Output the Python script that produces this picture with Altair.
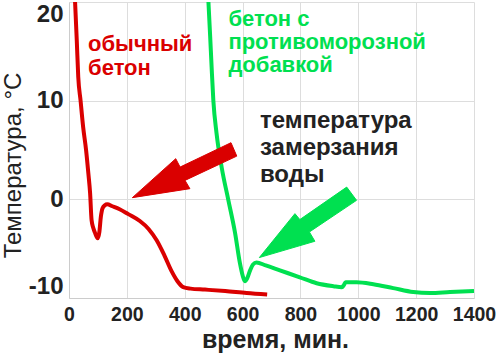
import altair as alt
import pandas as pd

# ---- data ----
red_t_min = [21, 27, 32, 40, 49, 59, 67, 73, 78, 84, 90, 99, 105, 110, 116, 124, 132,
             150, 175, 205, 245, 275, 303, 330, 355, 375, 395, 420, 470, 540, 614, 685]
red_temp = [20, 16, 12.4, 10, 7.3, 5.0, 2.6, 0.6, -2.1, -2.9, -3.4, -3.95, -3.3, -1.8, -0.9, -0.6, -0.5,
            -0.7, -1.0, -1.5, -2.2, -3.0, -4.15, -5.7, -7.3, -8.3, -8.9, -9.05, -9.15, -9.3, -9.5, -9.65]

green_t_min = [482, 488, 493, 499, 510, 528, 551, 574, 591, 600, 608, 616, 626, 636, 648, 680,
               729, 798, 856, 914, 943, 950, 956, 994, 1052, 1121, 1190, 1248, 1317, 1400]
green_temp = [20, 16.5, 13.4, 10, 6.7, 3.2, -0.1, -3.4, -6.5, -7.7, -8.3, -8.0, -7.2, -6.6, -6.4, -6.7,
              -7.2, -7.9, -8.5, -8.8, -8.9, -8.7, -8.4, -8.4, -8.6, -9.0, -9.4, -9.5, -9.4, -9.3]

# arrow outlines (data units)
red_arrow_x = [219, 369, 384, 560, 580, 401, 418, 219]
red_arrow_y = [0.17, 4.12, 3.27, 5.74, 4.38, 1.92, 1.08, 0.17]
green_arrow_x = [658, 781, 798, 960, 994, 831, 850, 658]
green_arrow_y = [-5.9, -1.45, -2.05, 1.24, -0.1, -3.31, -4.25, -5.9]

label_texts = ["обычный\nбетон", "бетон с\nпротивоморозной\nдобавкой", "температура\nзамерзания\nводы"]
x_ticks = [0, 200, 400, 600, 800, 1000, 1200, 1400]
y_ticks = [-10, 0, 10, 20]

RED = "#da0000"
GREEN = "#00e050"
DARK = "#222222"
FONT = "Liberation Sans"

red_df = pd.DataFrame({"x": red_t_min, "y": red_temp})
green_df = pd.DataFrame({"x": green_t_min, "y": green_temp})
ra_df = pd.DataFrame({"x": red_arrow_x, "y": red_arrow_y, "i": range(len(red_arrow_x))})
ga_df = pd.DataFrame({"x": green_arrow_x, "y": green_arrow_y, "i": range(len(green_arrow_x))})

xs = alt.Scale(domain=[0, 1400], nice=False)
ys = alt.Scale(domain=[-10, 20], nice=False)

xaxis = alt.Axis(values=x_ticks, title="время, мин.", grid=True, ticks=False,
                 labelExpr="'' + datum.value", labelOverlap=False, labelFlush=False,
                 labelFont=FONT, labelFontSize=19.5, labelFontWeight="bold", labelColor=DARK,
                 labelPadding=7, titleFont=FONT, titleFontSize=25, titleFontWeight="bold",
                 titleColor=DARK, titleBaseline="alphabetic", titleY=49, titleX=206,
                 domainColor="#cccccc", gridColor="#dddddd")
yaxis = alt.Axis(values=y_ticks, title="Температура, °C", grid=True, ticks=False,
                 labelExpr="'' + datum.value", labelOverlap=False,
                 labelFont=FONT, labelFontSize=24, labelFontWeight="bold", labelColor=DARK,
                 labelPadding=6, labelFlush=True, titleFont=FONT, titleFontSize=24,
                 titleFontWeight="normal", titleColor=DARK, titleX=-44, titleY=163,
                 titleAngle=-90, titleBaseline="bottom", domainColor="#cccccc", gridColor="#dddddd")

base_x = alt.X("x:Q", scale=xs, axis=xaxis)
base_y = alt.Y("y:Q", scale=ys, axis=yaxis)

red_line = alt.Chart(red_df).mark_line(color=RED, strokeWidth=4, interpolate="monotone").encode(
    x=base_x, y=base_y)
green_line = alt.Chart(green_df).mark_line(color=GREEN, strokeWidth=4, interpolate="monotone").encode(
    x=alt.X("x:Q", scale=xs), y=alt.Y("y:Q", scale=ys))

red_arrow = alt.Chart(ra_df).mark_line(fill=RED, stroke=RED, strokeWidth=1).encode(
    x=alt.X("x:Q", scale=xs), y=alt.Y("y:Q", scale=ys), order="i:Q")
green_arrow = alt.Chart(ga_df).mark_line(fill=GREEN, stroke=GREEN, strokeWidth=1).encode(
    x=alt.X("x:Q", scale=xs), y=alt.Y("y:Q", scale=ys), order="i:Q")

t1 = alt.Chart(pd.DataFrame({"x": [66], "y": [15.0], "t": [label_texts[0]]})).mark_text(
    align="left", baseline="alphabetic", font=FONT, fontSize=22, fontWeight="bold",
    color=RED, lineBreak="\n", lineHeight=23.5).encode(
    x=alt.X("x:Q", scale=xs), y=alt.Y("y:Q", scale=ys), text="t:N")
t2 = alt.Chart(pd.DataFrame({"x": [551], "y": [17.6], "t": [label_texts[1]]})).mark_text(
    align="left", baseline="alphabetic", font=FONT, fontSize=22, fontWeight="bold",
    color=GREEN, lineBreak="\n", lineHeight=23.3).encode(
    x=alt.X("x:Q", scale=xs), y=alt.Y("y:Q", scale=ys), text="t:N")
t3 = alt.Chart(pd.DataFrame({"x": [660], "y": [7.2], "t": [label_texts[2]]})).mark_text(
    align="left", baseline="alphabetic", font=FONT, fontSize=24, fontWeight="bold",
    color=DARK, lineBreak="\n", lineHeight=26.7).encode(
    x=alt.X("x:Q", scale=xs), y=alt.Y("y:Q", scale=ys), text="t:N")

chart = alt.layer(red_line, green_line, red_arrow, green_arrow, t1, t2, t3).properties(
    width=405, height=296,
    autosize=alt.AutoSizeParams(type="none"),
    padding={"left": 69, "top": 2, "right": 26, "bottom": 56},
    background="white",
).configure_view(stroke=None)

chart.save("out.html", embed_options={"renderer": "svg", "actions": False})
